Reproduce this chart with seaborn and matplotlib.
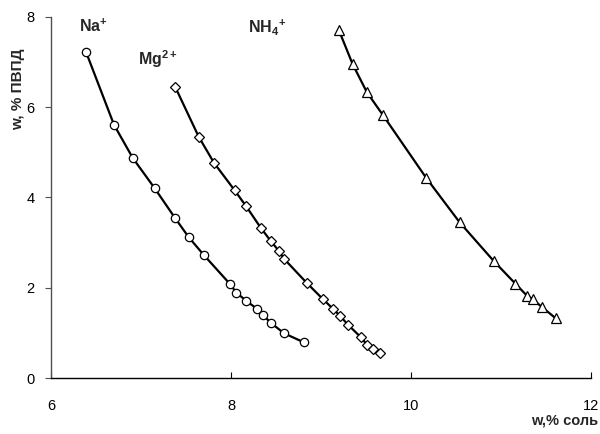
import matplotlib
matplotlib.use("Agg")
import matplotlib.pyplot as plt
import seaborn as sns
import pandas as pd

# Salt content (x) vs polymer content (y) for three cations
na_x = [6.39, 6.70, 6.91, 7.15, 7.38, 7.53, 7.70, 7.99, 8.06, 8.17, 8.29, 8.35, 8.45, 8.59, 8.81]
na_y = [7.22, 5.61, 4.87, 4.21, 3.54, 3.12, 2.72, 2.08, 1.89, 1.71, 1.53, 1.40, 1.21, 0.99, 0.79]

mg_x = [7.38, 7.64, 7.81, 8.04, 8.17, 8.33, 8.44, 8.53, 8.59, 8.84, 9.02, 9.13, 9.21, 9.30,
        9.44, 9.51, 9.58, 9.65]
mg_y = [6.45, 5.35, 4.77, 4.16, 3.80, 3.33, 3.04, 2.82, 2.64, 2.11, 1.75, 1.54, 1.38, 1.18,
        0.91, 0.74, 0.64, 0.55]

nh4_x = [9.20, 9.35, 9.51, 9.69, 10.17, 10.54, 10.92, 11.16, 11.29, 11.35, 11.45, 11.61]
nh4_y = [7.70, 6.96, 6.33, 5.82, 4.43, 3.45, 2.59, 2.09, 1.82, 1.75, 1.58, 1.32]

labels = [r"$\mathbf{Na^{+}}$", r"$\mathbf{Mg^{2+}}$", r"$\mathbf{NH_{4}{}^{+}}$"]
label_pos = [(6.31, 7.67), (6.97, 6.94), (8.19, 7.67)]

x_ticks = [6, 8, 10, 12]
y_ticks = [0, 2, 4, 6, 8]

sns.set_theme(style="white")
plt.rcParams["font.family"] = ["Liberation Sans", "DejaVu Sans"]
plt.rcParams["mathtext.fontset"] = "custom"
plt.rcParams["mathtext.rm"] = "Liberation Sans"
plt.rcParams["mathtext.bf"] = "Liberation Sans:bold"

fig = plt.figure(figsize=(6.0, 4.34), dpi=100)
ax = fig.add_axes([0.085, 0.129, 0.900, 0.832])

series = [
    (na_x, na_y, "o", 6.0),
    (mg_x, mg_y, "D", 5.6),
    (nh4_x, nh4_y, "^", 7.8),
]
for xs, ys, mk, ms in series:
    df = pd.DataFrame({"x": xs, "y": ys})
    sns.lineplot(data=df, x="x", y="y", sort=False, ax=ax, color="black",
                 linewidth=1.6, marker=mk, markersize=ms,
                 markerfacecolor="white", markeredgecolor="black",
                 markeredgewidth=0.9)

for text, (tx, ty) in zip(labels, label_pos):
    ax.text(tx, ty, text, ha="left", va="baseline", fontsize=11.5)

ax.set_xlim(6, 12)
ax.set_ylim(0, 8)
ax.set_xticks(x_ticks)
ax.set_yticks(y_ticks)
ax.set_xticklabels([str(t) for t in x_ticks])
ax.set_yticklabels([str(t) for t in y_ticks])

for side in ("top", "right"):
    ax.spines[side].set_visible(False)
ax.spines["left"].set_color("#505050")
ax.spines["bottom"].set_color("black")
ax.spines["left"].set_linewidth(1.0)
ax.spines["bottom"].set_linewidth(1.0)

ax.tick_params(axis="x", direction="in", length=4, width=0.8, color="black",
               labelsize=10.5, pad=15, labelcolor="black", bottom=True)
ax.tick_params(axis="y", direction="out", length=4, width=0.8, color="#505050",
               labelsize=10.5, pad=8, labelcolor="black", left=True)

ax.set_xlabel("w,% соль", fontsize=10.5, fontweight="bold", loc="right")
ax.xaxis.set_label_coords(1.013, -0.097)
ax.set_ylabel("w, % ПВПД", fontsize=11, fontweight="bold")
ax.yaxis.set_label_coords(-0.048, 0.80)

fig.savefig("out.png", dpi=100)
